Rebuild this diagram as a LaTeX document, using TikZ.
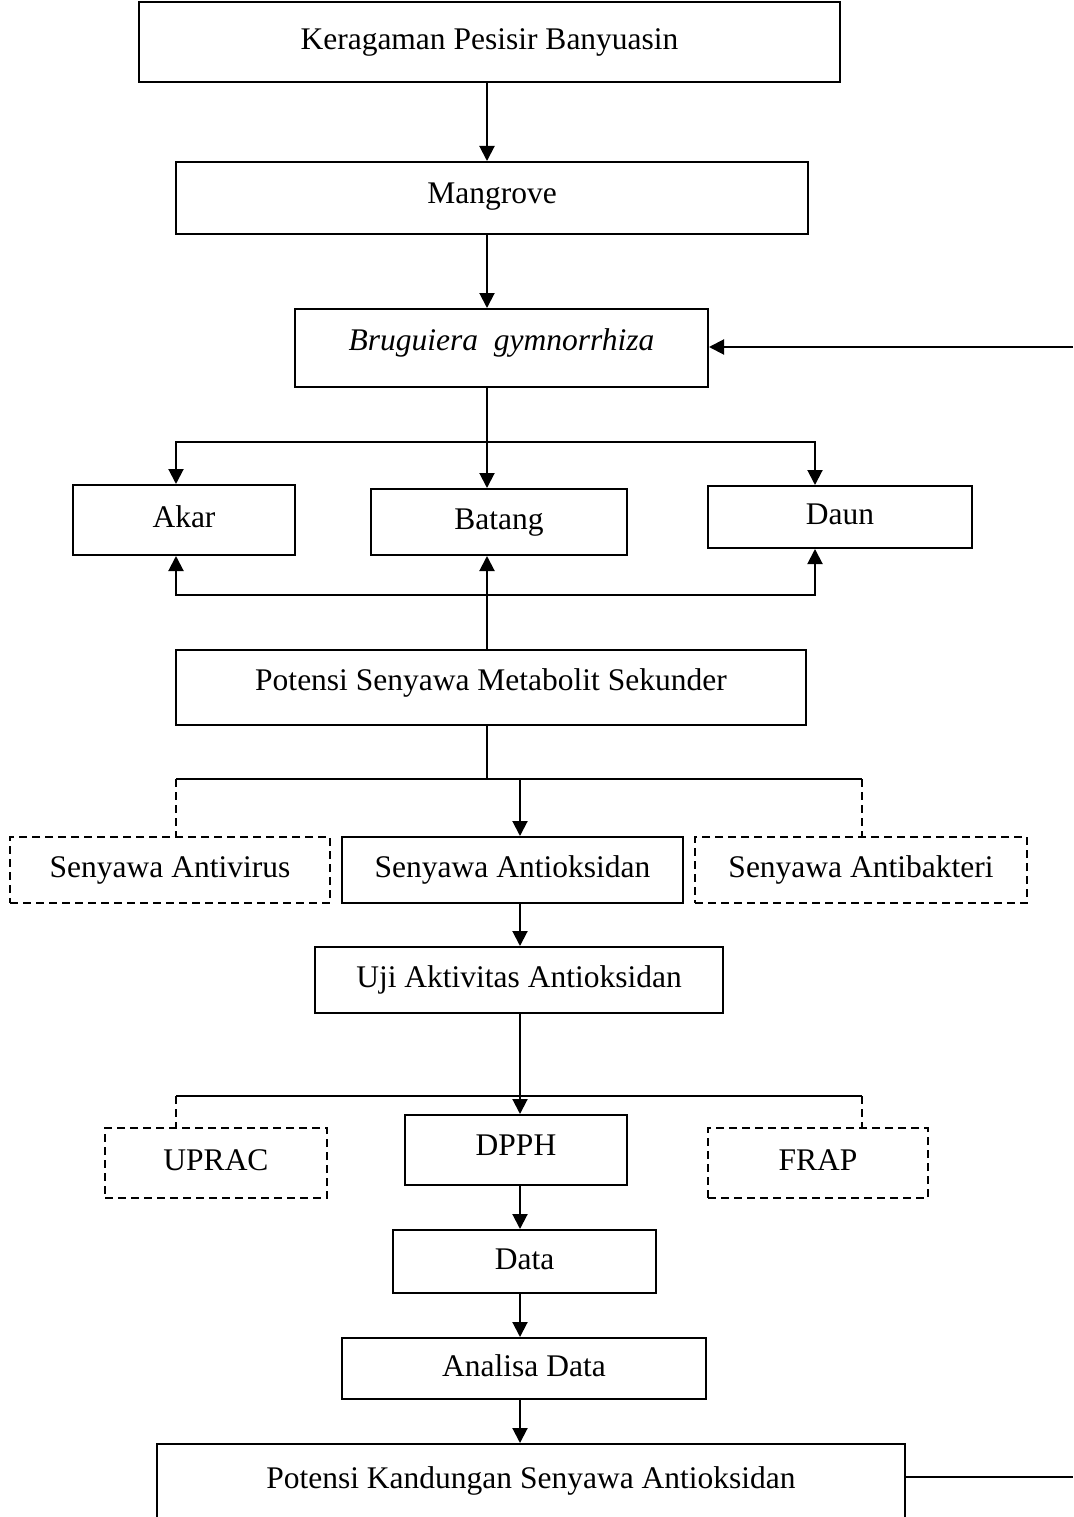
\documentclass[tikz,border=0pt]{standalone}
\usepackage{fontspec}
\setmainfont{Liberation Serif}
\usetikzlibrary{arrows.meta}
\begin{document}
\begin{tikzpicture}[x=1pt,y=-1pt,
  box/.style={draw,line width=2pt,inner sep=0pt,text height=22pt,text depth=7pt,
              font=\fontsize{31.5}{36}\selectfont},
  dbox/.style={box,dash pattern=on 8pt off 5pt},
  conn/.style={line width=2pt},
  arr/.style={conn,-{Triangle[length=15pt,width=15pt]}},
  dconn/.style={conn,dash pattern=on 8pt off 5pt}]
\useasboundingbox (0,0) rectangle (1073,1517);
\clip (0,0) rectangle (1073,1517);

% nodes
\node[box,minimum width=701pt,minimum height=80pt] (ker) at (489.5,42) {Keragaman Pesisir Banyuasin};
\node[box,minimum width=632pt,minimum height=72pt,text depth=10pt] (man) at (492,198) {Mangrove};
\node[box,minimum width=413pt,minimum height=78pt,text depth=18pt] (bru) at (501.5,348) {\itshape Bruguiera\ \ gymnorrhiza};
\node[box,minimum width=222pt,minimum height=70pt] (akar) at (184,520) {Akar};
\node[box,minimum width=256pt,minimum height=66pt] (batang) at (499,522) {Batang};
\node[box,minimum width=264pt,minimum height=62pt] (daun) at (840,517) {Daun};
\node[box,minimum width=630pt,minimum height=75pt,text depth=16pt] (pot) at (491,687.5) {Potensi Senyawa Metabolit Sekunder};
\node[dbox,minimum width=320pt,minimum height=66pt] (avir) at (170,870) {Senyawa Antivirus};
\node[box,minimum width=341pt,minimum height=66pt] (aoks) at (512.5,870) {Senyawa Antioksidan};
\node[dbox,minimum width=332pt,minimum height=66pt] (abak) at (861,870) {Senyawa Antibakteri};
\node[box,minimum width=408pt,minimum height=66pt] (uji) at (519,980) {Uji Aktivitas Antioksidan};
\node[dbox,minimum width=222pt,minimum height=70pt] (uprac) at (216,1163) {UPRAC};
\node[box,minimum width=222pt,minimum height=70pt,text depth=12pt] (dpph) at (516,1150) {DPPH};
\node[dbox,minimum width=220pt,minimum height=70pt] (frap) at (818,1163) {FRAP};
\node[box,minimum width=263pt,minimum height=63pt] (data) at (524.5,1261.5) {Data};
\node[box,minimum width=364pt,minimum height=61pt] (anal) at (524,1368.5) {Analisa Data};
\node[box,anchor=north,minimum width=748pt,text height=44pt,text depth=80pt] (last) at (531,1443) {Potensi Kandungan Senyawa Antioksidan};

% helper coordinates
\coordinate (cA) at (487,0);
\coordinate (cB) at (520,0);
\coordinate (xL) at (176,0);
\coordinate (xR) at (815,0);
\coordinate (xD) at (862,0);
\coordinate (y1) at (0,442);
\coordinate (y2) at (0,595);
\coordinate (y3) at (0,779);
\coordinate (y4) at (0,1096);
\coordinate (rin) at (1073,347);
\coordinate (rout) at (1073,1477);

% connectors
\draw[arr] (ker.south -| cA) -- (man.north -| cA);
\draw[arr] (man.south -| cA) -- (bru.north -| cA);
\draw[arr] (rin) -- (rin -| bru.east);

\draw[arr] (bru.south -| cA) -- (batang.north -| cA);
\draw[arr] (cA |- y1) -| (xL |- akar.north);
\draw[arr] (cA |- y1) -| (xR |- daun.north);

\draw[arr] (pot.north -| cA) -- (batang.south -| cA);
\draw[arr] (cA |- y2) -| (xL |- akar.south);
\draw[arr] (cA |- y2) -| (xR |- daun.south);

\draw[conn] (pot.south -| cA) -- (cA |- y3);
\draw[conn] (cA |- y3) -- (xL |- y3);
\draw[conn] (cA |- y3) -- (xD |- y3);
\draw[arr] (cB |- y3) -- (aoks.north -| cB);
\draw[dconn] (xL |- y3) -- (avir.north -| xL);
\draw[dconn] (xD |- y3) -- (abak.north -| xD);

\draw[arr] (aoks.south -| cB) -- (uji.north -| cB);
\draw[conn] (uji.south -| cB) -- (cB |- y4);
\draw[conn] (cB |- y4) -- (xL |- y4);
\draw[conn] (cB |- y4) -- (xD |- y4);
\draw[arr] (cB |- y4) -- (dpph.north -| cB);
\draw[dconn] (xL |- y4) -- (uprac.north -| xL);
\draw[dconn] (xD |- y4) -- (frap.north -| xD);

\draw[arr] (dpph.south -| cB) -- (data.north -| cB);
\draw[arr] (data.south -| cB) -- (anal.north -| cB);
\draw[arr] (anal.south -| cB) -- (last.north -| cB);
\draw[conn] (rout -| last.east) -- (rout);
\end{tikzpicture}
\end{document}
